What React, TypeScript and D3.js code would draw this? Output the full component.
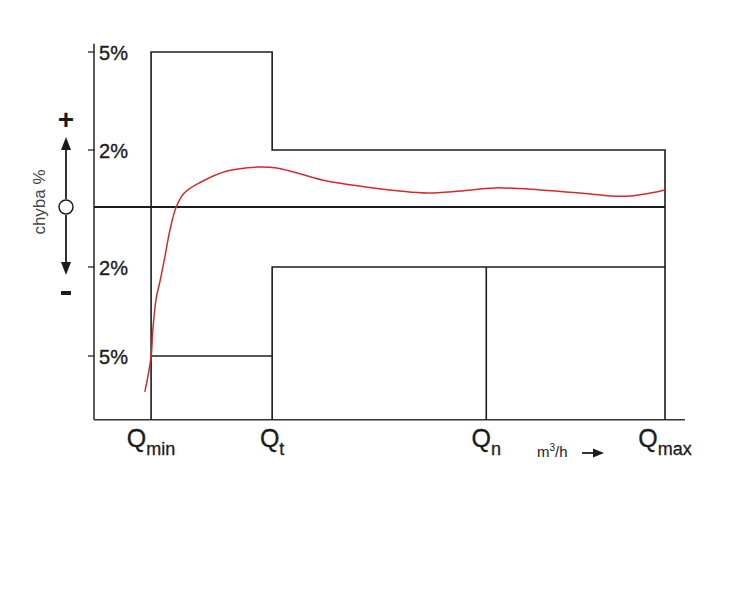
import React from "react";
import * as d3 from "d3";

// Flow positions (schematic units, Qmax = 100)
const flowNames = ["min", "t", "n", "max"];
const flowValues = [10, 31.2, 68.7, 100];
const flowAxisEnd = 103.5;

// Error axis
const errTicks = [5, 2, -2, -5];
const errMin = -7.15;
const errMax = 5.25;

// Measured error curve (flow, error %)
const curveFlow = [8.9, 10.0, 10.3, 10.9, 11.6, 12.4, 13.3, 14.4, 15.8, 18.6, 23.3, 28.7, 32.0, 35.6, 40.8, 47.0, 53.6, 58.3, 64.1, 70.2, 78.1, 85.1, 90.4, 93.9, 97.4, 100];
const curveErr = [-6.21, -5.03, -4.12, -3.05, -2.44, -1.67, -0.77, 0, 0.49, 0.86, 1.26, 1.40, 1.37, 1.19, 0.91, 0.72, 0.56, 0.49, 0.56, 0.67, 0.60, 0.49, 0.39, 0.39, 0.49, 0.60];

// Error limit envelopes
const upperFlow = [10, 10, 31.2, 31.2, 100, 100];
const upperErr = [errMin, 5, 5, 2, 2, errMin];
const lowerLeftFlow = [10, 31.2];
const lowerLeftErr = [-5, -5];
const lowerRightFlow = [31.2, 31.2, 100];
const lowerRightErr = [errMin, -2, -2];
const nominalFlow = [68.7, 68.7];
const nominalErr = [errMin, -2];

export default function App() {
  const x = d3.scaleLinear().domain([0, 100]).range([94, 665]);
  const y = d3
    .scaleLinear()
    .domain([-5, -2, 0, 2, 5])
    .range([356, 267, 207, 150, 52]);

  const line = d3
    .line<[number, number]>()
    .x((d) => x(d[0]))
    .y((d) => y(d[1]));
  const smooth = d3
    .line<[number, number]>()
    .x((d) => x(d[0]))
    .y((d) => y(d[1]))
    .curve(d3.curveCatmullRom.alpha(0.5));

  const zip = (a: number[], b: number[]) => a.map((v, i) => [v, b[i]] as [number, number]);

  const x0 = x(0);
  const yBottom = y(errMin);
  const yTop = y(errMax);
  const yZero = y(0);
  const font = "'Liberation Sans', Arial, Helvetica, sans-serif";
  const ink = "#1c1c1c";
  const ax = 66; // left annotation column

  return (
    <svg
      width={744}
      height={600}
      style={{ position: "absolute", left: 0, top: 0, background: "#fff" }}
      fontFamily={font}
    >
      {/* axes */}
      <line x1={x0} x2={x0} y1={yTop} y2={yBottom} stroke="#333" strokeWidth={1.6} />
      <line x1={x0} x2={x(flowAxisEnd)} y1={yBottom} y2={yBottom} stroke="#333" strokeWidth={1.6} />
      {errTicks.map((t) => (
        <g key={t}>
          <line x1={x0 - 6} x2={x0 + 1} y1={y(t)} y2={y(t)} stroke="#333" strokeWidth={1.4} />
          <text
            x={x0 + 5}
            y={y(t) + 8}
            fontSize={20}
            fill={ink}
            stroke={ink}
            strokeWidth={0.35}
          >
            {Math.abs(t)}%
          </text>
        </g>
      ))}

      {/* zero line */}
      <line x1={x0} x2={x(100)} y1={yZero} y2={yZero} stroke={ink} strokeWidth={1.8} />

      {/* limit envelopes */}
      <g fill="none" stroke={ink} strokeWidth={1.6}>
        <path d={line(zip(upperFlow, upperErr)) || ""} />
        <path d={line(zip(lowerLeftFlow, lowerLeftErr)) || ""} />
        <path d={line(zip(lowerRightFlow, lowerRightErr)) || ""} />
        <path d={line(zip(nominalFlow, nominalErr)) || ""} />
      </g>

      {/* error curve */}
      <path
        d={smooth(zip(curveFlow, curveErr)) || ""}
        fill="none"
        stroke="#d42a2a"
        strokeWidth={1.5}
      />

      {/* flow labels */}
      {flowValues.map((v, i) => (
        <text key={i} x={x(v)} y={447} textAnchor="middle" fill={ink} stroke={ink} strokeWidth={0.3}>
          <tspan fontSize={25}>Q</tspan>
          <tspan fontSize={18} dy={8}>
            {flowNames[i]}
          </tspan>
        </text>
      ))}

      {/* unit label */}
      <text x={537} y={457} fontSize={15} fill={ink}>
        m<tspan fontSize={10} dy={-6}>3</tspan>
        <tspan dy={6}>/h</tspan>
      </text>
      <line x1={582} x2={596} y1={453} y2={453} stroke={ink} strokeWidth={1.8} />
      <path d="M593,448.5 L604,453 L593,457.5 Z" fill={ink} />

      {/* left annotation */}
      <text
        transform={`translate(45, ${yZero - 5}) rotate(-90)`}
        textAnchor="middle"
        fontSize={17}
        fill="#444"
      >
        chyba %
      </text>
      <text x={ax} y={129} textAnchor="middle" fontSize={28} fontWeight="bold" fill={ink}>
        +
      </text>
      <line x1={ax} x2={ax} y1={yZero - 8} y2={148} stroke={ink} strokeWidth={1.8} />
      <path d={`M${ax - 5},150 L${ax},137 L${ax + 5},150 Z`} fill={ink} />
      <circle cx={ax} cy={yZero} r={7} fill="none" stroke={ink} strokeWidth={1.5} />
      <line x1={ax} x2={ax} y1={yZero + 8} y2={264} stroke={ink} strokeWidth={1.8} />
      <path d={`M${ax - 5},262 L${ax},275 L${ax + 5},262 Z`} fill={ink} />
      <rect x={ax - 5} y={291} width={10} height={4} fill={ink} />
    </svg>
  );
}
